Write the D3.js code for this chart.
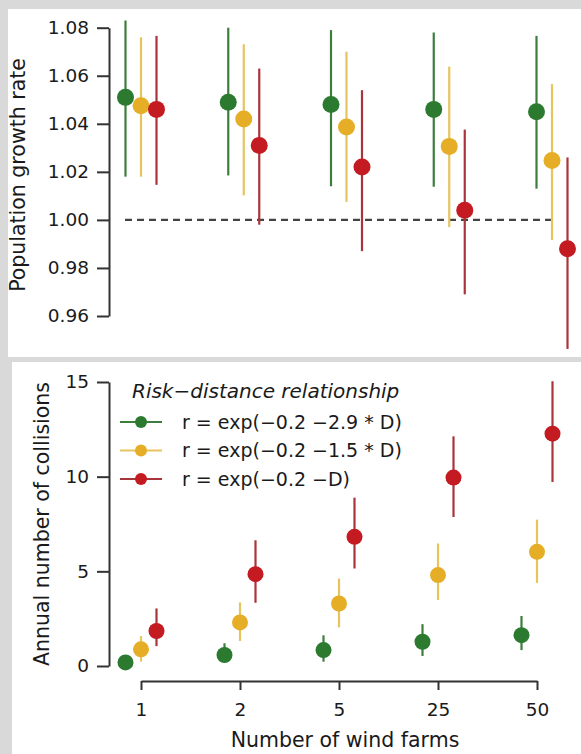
<!DOCTYPE html>
<html>
<head>
<meta charset="utf-8">
<script src="https://cdn.jsdelivr.net/npm/d3@7"></script>
<style>
  body { margin: 0; background: #d9d9d9; }
  svg text { font-family: "DejaVu Sans", sans-serif; fill: #1a1a1a; }
</style>
</head>
<body>
<svg id="chart"></svg>
<script>
var farms = ["1", "2", "5", "25", "50"];
var series = ["r = exp(\u22120.2 \u22122.9 * D)", "r = exp(\u22120.2 \u22121.5 * D)", "r = exp(\u22120.2 \u2212D)"];
var dotColors = ["#2b7a30", "#e5ae26", "#c41a22"];
var barColors = ["#3d7d3d", "#e6c45e", "#a8343c"];

// population growth rate: mean, lower, upper (rows = series, cols = farms)
var growthMean = [
  [1.051, 1.049, 1.048, 1.046, 1.045],
  [1.0475, 1.042, 1.0387, 1.0306, 1.0247],
  [1.046, 1.031, 1.022, 1.004, 0.988]
];
var growthLo = [
  [1.018, 1.0185, 1.014, 1.0138, 1.013],
  [1.018, 1.0102, 1.0075, 0.997, 0.9916],
  [1.0146, 0.998, 0.987, 0.969, 0.9463]
];
var growthHi = [
  [1.083, 1.080, 1.079, 1.078, 1.0766],
  [1.076, 1.0731, 1.070, 1.0638, 1.0565],
  [1.0766, 1.063, 1.054, 1.0376, 1.026]
];
var growthTicks = [0.96, 0.98, 1.00, 1.02, 1.04, 1.06, 1.08];

// annual number of collisions
var collMean = [
  [0.19, 0.58, 0.84, 1.28, 1.63],
  [0.88, 2.3, 3.3, 4.8, 6.03],
  [1.85, 4.85, 6.82, 9.95, 12.27]
];
var collLo = [
  [0.0, 0.23, 0.23, 0.53, 0.84],
  [0.23, 1.32, 2.04, 3.48, 4.39],
  [1.05, 3.34, 5.15, 7.87, 9.72]
];
var collHi = [
  [0.45, 1.2, 1.62, 2.21, 2.64],
  [1.58, 3.36, 4.62, 6.47, 7.73],
  [3.04, 6.64, 8.89, 12.13, 15.04]
];
var collTicks = [0, 5, 10, 15];

var width = 581, height = 754;

var svg = d3.select('#chart')
    .attr('width', width)
    .attr('height', height);

svg.append('rect').attr('width', width).attr('height', height).attr('fill', '#d9d9d9');
svg.append('rect').attr('x', 8).attr('y', 9).attr('width', 573).attr('height', 348).attr('fill', '#fff');
svg.append('rect').attr('x', 12).attr('y', 362).attr('width', 569).attr('height', 392).attr('fill', '#fff');

var offset = d3.scalePoint().domain(series).range([-15.5, 15.5]);

function styleAxis(g) {
  g.selectAll('path, line').attr('stroke', '#333').attr('stroke-width', 2);
  g.selectAll('text').attr('font-size', '18.5px').attr('fill', '#1a1a1a').attr('font-family', '"DejaVu Sans", sans-serif');
}

// draws one panel of error bars + dots
function drawPoints(g, xScale, yScale, mean, lo, hi, r) {
  series.forEach(function(s, i) {
    var rows = farms.map(function(f, j) {
      return { farm: f, m: mean[i][j], lo: lo[i][j], hi: hi[i][j] };
    });
    var grp = g.append('g').attr('class', 'series');
    grp.selectAll('line')
        .data(rows)
      .enter().append('line')
        .attr('x1', function(d) { return xScale(d.farm) + offset(s); })
        .attr('x2', function(d) { return xScale(d.farm) + offset(s); })
        .attr('y1', function(d) { return yScale(d.lo); })
        .attr('y2', function(d) { return yScale(d.hi); })
        .attr('stroke', barColors[i])
        .attr('stroke-width', 2.2);
    grp.selectAll('circle')
        .data(rows)
      .enter().append('circle')
        .attr('cx', function(d) { return xScale(d.farm) + offset(s); })
        .attr('cy', function(d) { return yScale(d.m); })
        .attr('r', r)
        .attr('fill', dotColors[i]);
  });
}

// ---- top panel: population growth rate
var xTop = d3.scalePoint().domain(farms).range([141, 552]);
var yTop = d3.scaleLinear().domain([0.96, 1.08]).range([316, 27.7]);

svg.append('g')
    .attr('transform', 'translate(109,0)')
    .call(d3.axisLeft(yTop).tickValues(growthTicks).tickFormat(d3.format('.2f'))
      .tickSize(12).tickSizeOuter(0).tickPadding(8))
    .call(styleAxis);

svg.append('line')
    .attr('x1', xTop(farms[0]) - 16).attr('x2', xTop(farms[farms.length - 1]) + 5)
    .attr('y1', yTop(1)).attr('y2', yTop(1))
    .attr('stroke', '#444').attr('stroke-width', 2.4)
    .attr('stroke-dasharray', '7,5');

drawPoints(svg.append('g'), xTop, yTop, growthMean, growthLo, growthHi, 8.5);

svg.append('text')
    .attr('transform', 'translate(25,175) rotate(-90)')
    .attr('text-anchor', 'middle')
    .attr('font-size', '20.5px')
    .text('Population growth rate');

// ---- bottom panel: annual collisions
var xBot = d3.scalePoint().domain(farms).range([141, 537]);
var yBot = d3.scaleLinear().domain([0, 15]).range([666, 382]);

svg.append('g')
    .attr('transform', 'translate(109,0)')
    .call(d3.axisLeft(yBot).tickValues(collTicks).tickSize(12).tickSizeOuter(0).tickPadding(8))
    .call(styleAxis);

svg.append('g')
    .attr('transform', 'translate(0,681)')
    .call(d3.axisBottom(xBot).tickSize(9).tickSizeOuter(0).tickPadding(13))
    .call(styleAxis);

drawPoints(svg.append('g'), xBot, yBot, collMean, collLo, collHi, 8);

svg.append('text')
    .attr('transform', 'translate(49,524) rotate(-90)')
    .attr('text-anchor', 'middle')
    .attr('font-size', '20.5px')
    .text('Annual number of collisions');

svg.append('text')
    .attr('x', 345).attr('y', 747)
    .attr('text-anchor', 'middle')
    .attr('font-size', '20.5px')
    .text('Number of wind farms');

// legend
var legend = svg.append('g').attr('transform', 'translate(120,398)');
legend.append('text')
    .attr('x', 12)
    .attr('font-size', '20px')
    .attr('font-style', 'italic')
    .text('Risk\u2212distance relationship');

var item = legend.selectAll('.item')
    .data(series)
  .enter().append('g')
    .attr('class', 'item')
    .attr('transform', function(d, i) { return 'translate(0,' + (24 + i * 28.5) + ')'; });

item.append('line')
    .attr('x1', 0).attr('x2', 42)
    .attr('stroke', function(d, i) { return barColors[i]; })
    .attr('stroke-width', 2.2);
item.append('circle')
    .attr('cx', 21).attr('r', 6)
    .attr('fill', function(d, i) { return dotColors[i]; });
item.append('text')
    .attr('x', 62).attr('dy', '0.36em')
    .attr('font-size', '19px')
    .text(String);
</script>
</body>
</html>
